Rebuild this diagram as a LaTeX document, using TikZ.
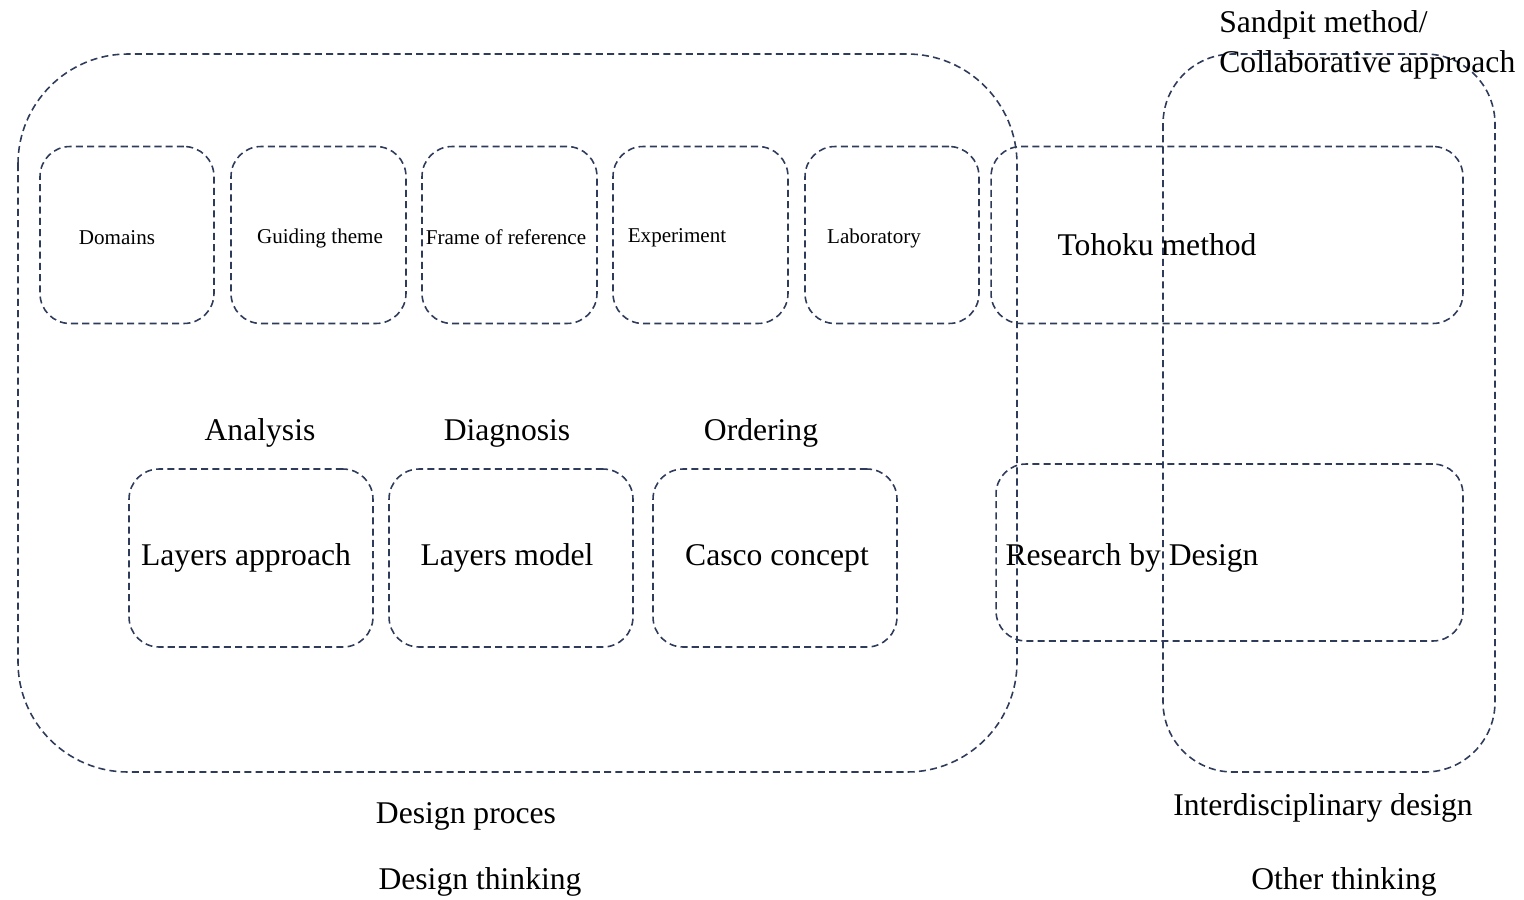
\documentclass[tikz,border=0pt]{standalone}
\usepackage{fontspec}
\setmainfont{Liberation Serif}
\usepackage{tikz}
\usetikzlibrary{positioning}
\definecolor{navy}{HTML}{2E3B5A}
\tikzset{
  dashbox/.style={draw=navy, line width=0.9pt, dash pattern=on 4pt off 2.4pt, rounded corners=0.6cm, minimum width=#1},
  smalltxt/.style={font=\fontsize{12}{14}\selectfont, inner sep=0pt},
  bigtxt/.style={font=\fontsize{18}{21}\selectfont, inner sep=0pt}
}

\begin{document}
\begin{tikzpicture}[x=0.02cm,y=-0.02cm]
        \useasboundingbox (0,0) rectangle (1524,899);
        % outer groups
        \draw[dashbox=0, rounded corners=2.2cm] (18,54) rectangle (1017,772);
        \draw[dashbox=0, rounded corners=1.4cm] (1163,54) rectangle (1495,772);
        % top row
        \node[dashbox=3.48cm, minimum height=3.54cm] (domains) at (127,235) {};
        \node[dashbox=3.5cm, minimum height=3.54cm] (theme) at (318.5,235) {};
        \node[dashbox=3.5cm, minimum height=3.54cm] (frame) at (509.5,235) {};
        \node[dashbox=3.5cm, minimum height=3.54cm] (experiment) at (700.5,235) {};
        \node[dashbox=3.48cm, minimum height=3.54cm] (lab) at (892,235) {};
        \node[dashbox=9.44cm, minimum height=3.54cm] (tohoku) at (1227,235) {};
        \node[smalltxt] at (117,238) {Domains};
        \node[smalltxt] at (320,238) {Guiding theme};
        \node[smalltxt] at (506,237) {Frame of reference};
        \node[smalltxt] at (677,238) {Experiment};
        \node[smalltxt] at (874,238) {Laboratory};
        \node[bigtxt] at (1157,245) {Tohoku method};
        % bottom row
        \node[bigtxt] (analysis) at (260,433) {Analysis};
        \node[bigtxt] (diagnosis) at (507,433) {Diagnosis};
        \node[bigtxt] (ordering) at (761,433) {Ordering};
        \node[dashbox=4.88cm, minimum height=3.56cm] (layapp) at (251,558) {};
        \node[dashbox=4.88cm, minimum height=3.56cm] (laymod) at (511,558) {};
        \node[dashbox=4.88cm, minimum height=3.56cm] (casco) at (775,558) {};
        \node[dashbox=9.34cm, minimum height=3.54cm] (rbd) at (1229.5,552.5) {};
        \node[bigtxt] at (246,558) {Layers approach};
        \node[bigtxt] at (507,558) {Layers model};
        \node[bigtxt] at (777,558) {Casco concept};
        \node[bigtxt] at (1132,558) {Research by Design};
        % captions
        \node[bigtxt, anchor=west] (sandpit) at (1219,25) {Sandpit method/};
        \node[bigtxt, anchor=west] (collab) at (1219,65) {Collaborative approach};
        \node[bigtxt] (proces) at (466,816) {Design proces};
        \node[bigtxt] (dthink) at (480,882) {Design thinking};
        \node[bigtxt] (interd) at (1323,808) {Interdisciplinary design};
        \node[bigtxt] (othink) at (1344,882) {Other thinking};
    \end{tikzpicture}
\end{document}
